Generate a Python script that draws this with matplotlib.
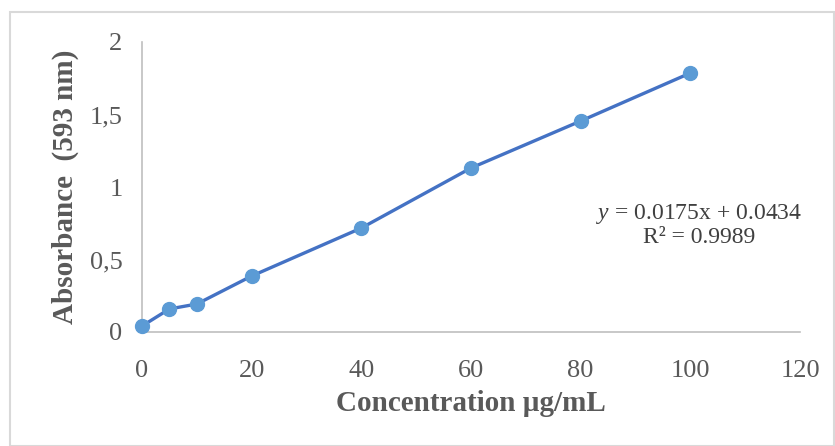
import matplotlib.pyplot as plt
from matplotlib.patches import Rectangle

conc = [0, 5, 10, 20, 40, 60, 80, 100]
absorb = [0.041, 0.159, 0.193, 0.386, 0.717, 1.131, 1.455, 1.786]
xticks = [0, 20, 40, 60, 80, 100, 120]
yticks = [0, 0.5, 1, 1.5, 2]
ytick_labels = ['0', '0,5', '1', '1,5', '2']

plt.rcParams['font.family'] = ['Liberation Serif', 'DejaVu Serif']
plt.rcParams['mathtext.fontset'] = 'custom'
plt.rcParams['mathtext.rm'] = 'Liberation Serif'
plt.rcParams['mathtext.it'] = 'Liberation Serif:italic'

W, H = 835, 446
fig = plt.figure(figsize=(W/100, H/100), dpi=100)
ax = fig.add_axes([142/W, 1 - 332/H, (800 - 142)/W, (332 - 42)/H])

# outer chart border
fig.patches.append(Rectangle((10/W, 0), 1 - 11/W, 1 - 12/H, transform=fig.transFigure,
                             fill=False, edgecolor='#d9d9d9', linewidth=1.5))

ax.plot(conc, absorb, color='#4472C4', linewidth=2.4, marker='o', markersize=10,
        markerfacecolor='#5B9BD5', markeredgecolor='#5B9BD5', clip_on=False, zorder=3)

ax.set_xlim(0, 120)
ax.set_ylim(0, 2)
ax.set_xticks(xticks)
ax.set_yticks(yticks)
ax.set_yticklabels(ytick_labels)
ax.tick_params(length=0, labelsize=19, labelcolor='#595959')
ax.tick_params(axis='x', pad=20)
ax.tick_params(axis='y', pad=14)
for s in ['top', 'right']:
    ax.spines[s].set_visible(False)
for s in ['left', 'bottom']:
    ax.spines[s].set_color('#bfbfbf')
    ax.spines[s].set_linewidth(1.2)

ax.set_xlabel('Concentration µg/mL', fontsize=21, fontweight='bold', color='#595959', labelpad=6)
ax.set_ylabel('Absorbance  (593 nm)', fontsize=21, fontweight='bold', color='#595959', labelpad=8)

ax.text(699/W, 1 - 225/H, '$y$ = 0.0175x + 0.0434\nR² = 0.9989', transform=fig.transFigure,
        fontsize=17, color='#404040', ha='center', va='center', multialignment='center',
        linespacing=1.05)

fig.savefig('out.png', dpi=100)
